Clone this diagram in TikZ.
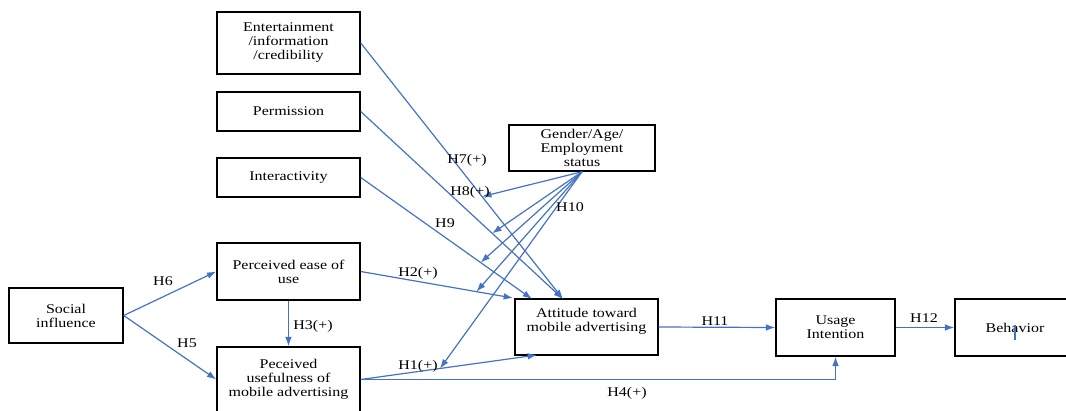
\documentclass[tikz,border=0pt]{standalone}
\usepackage{fontspec}
\setmainfont{Liberation Serif}[FakeStretch=1.2]
\usetikzlibrary{arrows.meta,calc}
\definecolor{linkblue}{RGB}{68,114,196}
\begin{document}
\begin{tikzpicture}[x=0.75pt,y=-0.75pt,
  box/.style={draw, line width=1.1pt, align=center, inner sep=0pt,
    minimum width=107.25pt, font=\fontsize{10}{10.5}\selectfont},
  link/.style={draw=linkblue, line width=0.9pt, -{Latex[length=7pt,width=5pt]}},
  hyp/.style={font=\fontsize{10}{10.5}\selectfont, inner sep=0pt}]
\useasboundingbox (0,0) rectangle (1066,410);
\clip (0,0) rectangle (1066,410);

% constructs
\node[box, minimum height=46.5pt] (ent) at (288.5,43) {Entertainment\\/information\\/credibility};
\node[box, minimum height=29.25pt] (perm) at (288.5,111.5) {Permission};
\node[box, minimum height=29.25pt] (inter) at (288.5,177.5) {Interactivity};
\node[box, minimum height=42.75pt] (ease) at (288.5,271.5) {Perceived ease of\\use};
\node[box, minimum height=48.75pt] (useful) at (288.5,379.5) {Peceived\\usefulness of\\mobile advertising};
\node[box, minimum width=85.5pt, minimum height=41.25pt] (social) at (66,315.5) {Social\\influence};
\node[box, minimum width=109.5pt, minimum height=34.5pt] (gender) at (582,148) {Gender/Age/\\Employment\\status};
% an empty last line lifts the two text lines above the middle
\node[box, minimum height=42pt] (att) at (586.5,327) {Attitude toward\\mobile advertising\\\mbox{}};
\node[box, minimum width=89.25pt, minimum height=42.75pt] (usage) at (835.5,327.5) {Usage\\Intention};
\node[box, minimum width=90pt, minimum height=42.75pt] (behav) at (1015,327.5) {Behavior};

% arrow ends on the top and bottom of the attitude box
\coordinate (tA) at (563,299);
\coordinate (tB) at (532,299);
\coordinate (tC) at (513,298);
\coordinate (tD) at (537,355);

% direct paths
\draw[link] (ent.east) -- (tA);
\draw[link] (perm.east) -- (tA);
\draw[link] (inter.east) -- (tB);
\draw[link] (ease.east) -- (tC);
\draw[link] (useful.east) -- (tD);
\draw[link] (useful.east) -| (usage.south);
\draw[link] (att.east) -- (usage.west);
\draw[link] (usage.east) -- (behav.west);
\draw[link] (social.east) -- (ease.west);
\draw[link] (social.east) -- (useful.west);
\draw[link] (ease.south) -- (useful.north);

% moderating paths onto the direct paths
\coordinate (m1) at ($(ent.east)!0.6!(tA)$);
\coordinate (m2) at ($(perm.east)!0.65!(tA)$);
\coordinate (m3) at ($(inter.east)!0.7!(tB)$);
\coordinate (m4) at ($(ease.east)!0.76!(tC)$);
\coordinate (m5) at ($(useful.east)!0.45!(tD)$);
\foreach \m in {m1,m2,m3,m4,m5}
  \draw[link] (gender.south) -- (\m);

% hypothesis labels
\node[hyp] (h7) at (467,160) {H7(+)};
\node[hyp] (h8) at (470,192) {H8(+)};
\node[hyp] (h9) at (445,223) {H9};
\node[hyp] (h10) at (570,207) {H10};
\node[hyp] (h2) at (418,273) {H2(+)};
\node[hyp] (h1) at (418,366) {H1(+)};
\node[hyp] (h4) at (627,393) {H4(+)};
\node[hyp] (h11) at (715,321) {H11};
\node[hyp] (h12) at (924,318) {H12};
\node[hyp] (h6) at (163,281) {H6};
\node[hyp] (h5) at (187,343) {H5};
\node[hyp] (h3) at (313,326) {H3(+)};

% small stroke inside the behavior box
\draw[linkblue, line width=0.8pt] (1015,325) -- (1015,340);
\end{tikzpicture}
\end{document}
